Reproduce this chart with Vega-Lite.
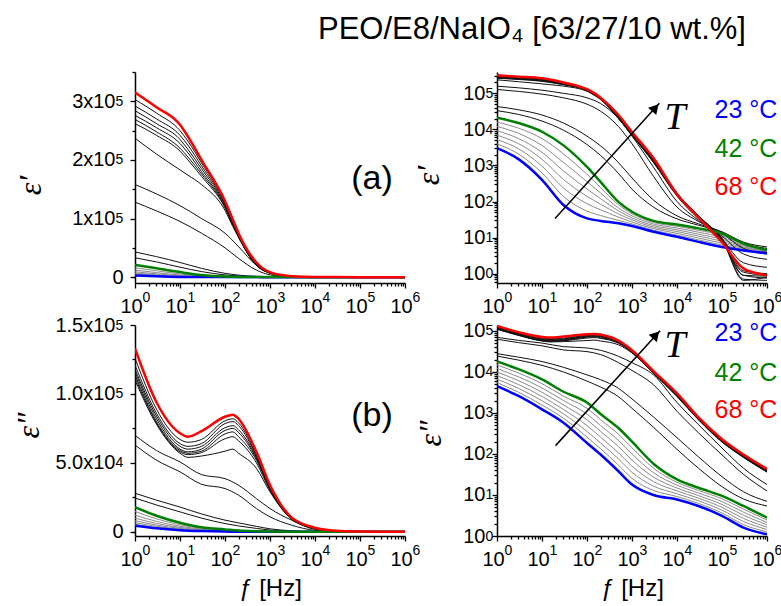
{
"$schema":"https://vega.github.io/schema/vega-lite/v6.json",
"autosize":{"type":"none"},
"padding":{"left":135,"top":72,"right":646,"bottom":534},
"title":{"text":"PEO/E8/NaIO₄ [63/27/10 wt.%]","anchor":"start","frame":"group","dx":183,"dy":33,"offset":25,"baseline":"alphabetic","fontSize":31,"font":"Liberation Sans","fontWeight":"normal","color":"#000"},
"data":{"values":[
{"T":23,"s":"blue","f":1,"e1":3000,"e2":4500},{"T":23,"s":"blue","f":3,"e1":1500,"e2":2600},{"T":23,"s":"blue","f":10,"e1":400,"e2":1230},{"T":23,"s":"blue","f":30,"e1":80,"e2":580},{"T":23,"s":"blue","f":100,"e1":34,"e2":186},{"T":23,"s":"blue","f":200,"e1":29,"e2":97},{"T":23,"s":"blue","f":500,"e1":25,"e2":38},{"T":23,"s":"blue","f":1000,"e1":21,"e2":18},{"T":23,"s":"blue","f":3000,"e1":14.5,"e2":10},{"T":23,"s":"blue","f":10000,"e1":10.5,"e2":7.8},{"T":23,"s":"blue","f":30000,"e1":7.6,"e2":5.4},{"T":23,"s":"blue","f":100000,"e1":5.5,"e2":3.1},{"T":23,"s":"blue","f":300000,"e1":4.4,"e2":1.6},{"T":23,"s":"blue","f":1000000,"e1":3.7,"e2":1.1},
{"T":25,"s":"gray","f":1,"e1":3960,"e2":5480},{"T":25,"s":"gray","f":3,"e1":2080,"e2":3220},{"T":25,"s":"gray","f":10,"e1":620,"e2":1565},{"T":25,"s":"gray","f":30,"e1":138,"e2":743},{"T":25,"s":"gray","f":100,"e1":54,"e2":258},{"T":25,"s":"gray","f":200,"e1":41,"e2":135},{"T":25,"s":"gray","f":500,"e1":30,"e2":53.7},{"T":25,"s":"gray","f":1000,"e1":23.9,"e2":25.4},{"T":25,"s":"gray","f":3000,"e1":16,"e2":12.9},{"T":25,"s":"gray","f":10000,"e1":11.7,"e2":9.16},{"T":25,"s":"gray","f":30000,"e1":8.6,"e2":6.24},{"T":25,"s":"gray","f":100000,"e1":6.2,"e2":3.64},{"T":25,"s":"gray","f":300000,"e1":4.7,"e2":1.9},{"T":25,"s":"gray","f":1000000,"e1":3.8,"e2":1.26},
{"T":28,"s":"gray","f":1,"e1":5220,"e2":6680},{"T":28,"s":"gray","f":3,"e1":2900,"e2":4000},{"T":28,"s":"gray","f":10,"e1":960,"e2":1990},{"T":28,"s":"gray","f":30,"e1":237,"e2":953},{"T":28,"s":"gray","f":100,"e1":87,"e2":356},{"T":28,"s":"gray","f":200,"e1":59,"e2":186},{"T":28,"s":"gray","f":500,"e1":37,"e2":76},{"T":28,"s":"gray","f":1000,"e1":27,"e2":35.8},{"T":28,"s":"gray","f":3000,"e1":17.7,"e2":16.5},{"T":28,"s":"gray","f":10000,"e1":13.1,"e2":10.7},{"T":28,"s":"gray","f":30000,"e1":9.7,"e2":7.2},{"T":28,"s":"gray","f":100000,"e1":7,"e2":4.27},{"T":28,"s":"gray","f":300000,"e1":5,"e2":2.26},{"T":28,"s":"gray","f":1000000,"e1":3.9,"e2":1.44},
{"T":31,"s":"gray","f":1,"e1":6900,"e2":8150},{"T":31,"s":"gray","f":3,"e1":4030,"e2":4950},{"T":31,"s":"gray","f":10,"e1":1490,"e2":2530},{"T":31,"s":"gray","f":30,"e1":408,"e2":1220},{"T":31,"s":"gray","f":100,"e1":139,"e2":492},{"T":31,"s":"gray","f":200,"e1":84,"e2":258},{"T":31,"s":"gray","f":500,"e1":45,"e2":107},{"T":31,"s":"gray","f":1000,"e1":31,"e2":50.5},{"T":31,"s":"gray","f":3000,"e1":19.5,"e2":21.2},{"T":31,"s":"gray","f":10000,"e1":14.7,"e2":12.6},{"T":31,"s":"gray","f":30000,"e1":11,"e2":8.36},{"T":31,"s":"gray","f":100000,"e1":7.9,"e2":5.01},{"T":31,"s":"gray","f":300000,"e1":5.3,"e2":2.69},{"T":31,"s":"gray","f":1000000,"e1":4,"e2":1.64},
{"T":34,"s":"gray","f":1,"e1":9120,"e2":9930},{"T":34,"s":"gray","f":3,"e1":5580,"e2":6140},{"T":34,"s":"gray","f":10,"e1":2310,"e2":3210},{"T":34,"s":"gray","f":30,"e1":705,"e2":1570},{"T":34,"s":"gray","f":100,"e1":222,"e2":681},{"T":34,"s":"gray","f":200,"e1":120,"e2":357},{"T":34,"s":"gray","f":500,"e1":55,"e2":152},{"T":34,"s":"gray","f":1000,"e1":35,"e2":71.3},{"T":34,"s":"gray","f":3000,"e1":21.5,"e2":27.3},{"T":34,"s":"gray","f":10000,"e1":16.4,"e2":14.8},{"T":34,"s":"gray","f":30000,"e1":12.4,"e2":9.68},{"T":34,"s":"gray","f":100000,"e1":9,"e2":5.87},{"T":34,"s":"gray","f":300000,"e1":5.6,"e2":3.21},{"T":34,"s":"gray","f":1000000,"e1":4.1,"e2":1.87},
{"T":37,"s":"gray","f":1,"e1":12050,"e2":12100},{"T":37,"s":"gray","f":3,"e1":7760,"e2":7620},{"T":37,"s":"gray","f":10,"e1":3570,"e2":4090},{"T":37,"s":"gray","f":30,"e1":1210,"e2":2010},{"T":37,"s":"gray","f":100,"e1":356,"e2":942},{"T":37,"s":"gray","f":200,"e1":172,"e2":495},{"T":37,"s":"gray","f":500,"e1":66,"e2":215},{"T":37,"s":"gray","f":1000,"e1":40,"e2":100},{"T":37,"s":"gray","f":3000,"e1":23.8,"e2":35.1},{"T":37,"s":"gray","f":10000,"e1":18.4,"e2":17.4},{"T":37,"s":"gray","f":30000,"e1":14.1,"e2":11.2},{"T":37,"s":"gray","f":100000,"e1":10.2,"e2":6.9},{"T":37,"s":"gray","f":300000,"e1":6,"e2":3.81},{"T":37,"s":"gray","f":1000000,"e1":4.3,"e2":2.14},
{"T":40,"s":"gray","f":1,"e1":15900,"e2":14800},{"T":40,"s":"gray","f":3,"e1":10800,"e2":9440},{"T":40,"s":"gray","f":10,"e1":5550,"e2":5200},{"T":40,"s":"gray","f":30,"e1":2090,"e2":2580},{"T":40,"s":"gray","f":100,"e1":569,"e2":1300},{"T":40,"s":"gray","f":200,"e1":245,"e2":687},{"T":40,"s":"gray","f":500,"e1":81,"e2":303},{"T":40,"s":"gray","f":1000,"e1":46,"e2":142},{"T":40,"s":"gray","f":3000,"e1":26.2,"e2":45.1},{"T":40,"s":"gray","f":10000,"e1":20.6,"e2":20.4},{"T":40,"s":"gray","f":30000,"e1":15.9,"e2":12.9},{"T":40,"s":"gray","f":100000,"e1":11.5,"e2":8.11},{"T":40,"s":"gray","f":300000,"e1":6.4,"e2":4.53},{"T":40,"s":"gray","f":1000000,"e1":4.4,"e2":2.45},
{"T":42,"s":"green","f":1,"e1":21000,"e2":18000},{"T":42,"s":"green","f":3,"e1":15000,"e2":11700},{"T":42,"s":"green","f":10,"e1":8600,"e2":6600},{"T":42,"s":"green","f":30,"e1":3600,"e2":3300},{"T":42,"s":"green","f":100,"e1":910,"e2":1800},{"T":42,"s":"green","f":200,"e1":350,"e2":950},{"T":42,"s":"green","f":500,"e1":98,"e2":430},{"T":42,"s":"green","f":1000,"e1":52,"e2":200},{"T":42,"s":"green","f":3000,"e1":29,"e2":58},{"T":42,"s":"green","f":10000,"e1":23,"e2":24},{"T":42,"s":"green","f":30000,"e1":18,"e2":15},{"T":42,"s":"green","f":100000,"e1":13,"e2":9.5},{"T":42,"s":"green","f":300000,"e1":6.8,"e2":5.4},{"T":42,"s":"green","f":1000000,"e1":4.5,"e2":2.8},
{"T":44,"s":"black","f":1,"e1":33000,"e2":24500},{"T":44,"s":"black","f":3,"e1":26000,"e2":19500},{"T":44,"s":"black","f":10,"e1":17000,"e2":14500},{"T":44,"s":"black","f":30,"e1":9500,"e2":10000},{"T":44,"s":"black","f":100,"e1":3800,"e2":6000},{"T":44,"s":"black","f":200,"e1":1900,"e2":4300},{"T":44,"s":"black","f":500,"e1":600,"e2":2500},{"T":44,"s":"black","f":1000,"e1":220,"e2":1300},{"T":44,"s":"black","f":3000,"e1":70,"e2":450},{"T":44,"s":"black","f":10000,"e1":33,"e2":130},{"T":44,"s":"black","f":30000,"e1":22,"e2":45},{"T":44,"s":"black","f":100000,"e1":14,"e2":16},{"T":44,"s":"black","f":300000,"e1":7,"e2":8},{"T":44,"s":"black","f":1000000,"e1":5,"e2":5.4},
{"T":46,"s":"black","f":1,"e1":43000,"e2":28000},{"T":46,"s":"black","f":3,"e1":35000,"e2":23000},{"T":46,"s":"black","f":10,"e1":25000,"e2":18000},{"T":46,"s":"black","f":30,"e1":15000,"e2":13000},{"T":46,"s":"black","f":100,"e1":6500,"e2":8500},{"T":46,"s":"black","f":200,"e1":3500,"e2":6500},{"T":46,"s":"black","f":500,"e1":1200,"e2":4000},{"T":46,"s":"black","f":1000,"e1":450,"e2":2200},{"T":46,"s":"black","f":3000,"e1":110,"e2":800},{"T":46,"s":"black","f":10000,"e1":40,"e2":250},{"T":46,"s":"black","f":30000,"e1":24,"e2":85},{"T":46,"s":"black","f":100000,"e1":14.5,"e2":28},{"T":46,"s":"black","f":300000,"e1":7.5,"e2":12},{"T":46,"s":"black","f":1000000,"e1":5.5,"e2":7},
{"T":48,"s":"black","f":1,"e1":128000,"e2":63000},{"T":48,"s":"black","f":3,"e1":113000,"e2":52000},{"T":48,"s":"black","f":10,"e1":95000,"e2":43500},{"T":48,"s":"black","f":30,"e1":75000,"e2":34500},{"T":48,"s":"black","f":100,"e1":50000,"e2":31400},{"T":48,"s":"black","f":200,"e1":32000,"e2":26600},{"T":48,"s":"black","f":500,"e1":12000,"e2":16900},{"T":48,"s":"black","f":1000,"e1":4000,"e2":10900},{"T":48,"s":"black","f":3000,"e1":500,"e2":4900},{"T":48,"s":"black","f":10000,"e1":70,"e2":1100},{"T":48,"s":"black","f":30000,"e1":28,"e2":330},{"T":48,"s":"black","f":100000,"e1":13,"e2":95},{"T":48,"s":"black","f":300000,"e1":5,"e2":32},{"T":48,"s":"black","f":1000000,"e1":3.5,"e2":12.5},
{"T":50,"s":"black","f":1,"e1":158000,"e2":70000},{"T":50,"s":"black","f":3,"e1":142000,"e2":59000},{"T":50,"s":"black","f":10,"e1":122000,"e2":50700},{"T":50,"s":"black","f":30,"e1":100000,"e2":41500},{"T":50,"s":"black","f":100,"e1":75000,"e2":38600},{"T":50,"s":"black","f":200,"e1":52000,"e2":33800},{"T":50,"s":"black","f":500,"e1":20000,"e2":24100},{"T":50,"s":"black","f":1000,"e1":6500,"e2":16900},{"T":50,"s":"black","f":3000,"e1":900,"e2":8500},{"T":50,"s":"black","f":10000,"e1":100,"e2":1800},{"T":50,"s":"black","f":30000,"e1":30,"e2":520},{"T":50,"s":"black","f":100000,"e1":11,"e2":140},{"T":50,"s":"black","f":300000,"e1":3.5,"e2":45},{"T":50,"s":"black","f":1000000,"e1":2.5,"e2":18},
{"T":52,"s":"black","f":1,"e1":237000,"e2":110000},{"T":52,"s":"black","f":3,"e1":210000,"e2":78000},{"T":52,"s":"black","f":10,"e1":183000,"e2":57000},{"T":52,"s":"black","f":15,"e1":174000,"e2":54000},{"T":52,"s":"black","f":30,"e1":158000,"e2":55000},{"T":52,"s":"black","f":100,"e1":114000,"e2":58500},{"T":52,"s":"black","f":150,"e1":86000,"e2":60000},{"T":52,"s":"black","f":200,"e1":68000,"e2":57000},{"T":52,"s":"black","f":500,"e1":20000,"e2":46000},{"T":52,"s":"black","f":1000,"e1":6800,"e2":29000},{"T":52,"s":"black","f":3000,"e1":1200,"e2":9200},{"T":52,"s":"black","f":10000,"e1":140,"e2":2500},{"T":52,"s":"black","f":30000,"e1":33,"e2":680},{"T":52,"s":"black","f":100000,"e1":9,"e2":195},{"T":52,"s":"black","f":300000,"e1":2,"e2":82},{"T":52,"s":"black","f":1000000,"e1":1.5,"e2":36},
{"T":54,"s":"black","f":1,"e1":262000,"e2":112000},{"T":54,"s":"black","f":3,"e1":242000,"e2":79000},{"T":54,"s":"black","f":10,"e1":215000,"e2":58000},{"T":54,"s":"black","f":15,"e1":200000,"e2":56000},{"T":54,"s":"black","f":30,"e1":172000,"e2":57500},{"T":54,"s":"black","f":100,"e1":118000,"e2":67500},{"T":54,"s":"black","f":150,"e1":88000,"e2":69000},{"T":54,"s":"black","f":200,"e1":68000,"e2":66000},{"T":54,"s":"black","f":500,"e1":20000,"e2":50000},{"T":54,"s":"black","f":1000,"e1":7000,"e2":30000},{"T":54,"s":"black","f":3000,"e1":1250,"e2":9400},{"T":54,"s":"black","f":10000,"e1":150,"e2":2600},{"T":54,"s":"black","f":30000,"e1":36,"e2":690},{"T":54,"s":"black","f":100000,"e1":9.5,"e2":200},{"T":54,"s":"black","f":300000,"e1":1.2,"e2":84},{"T":54,"s":"black","f":1000000,"e1":1,"e2":37},
{"T":56,"s":"black","f":1,"e1":269000,"e2":114000},{"T":56,"s":"black","f":3,"e1":248000,"e2":80000},{"T":56,"s":"black","f":10,"e1":220000,"e2":59000},{"T":56,"s":"black","f":15,"e1":205000,"e2":57000},{"T":56,"s":"black","f":30,"e1":176000,"e2":58500},{"T":56,"s":"black","f":100,"e1":120000,"e2":71000},{"T":56,"s":"black","f":150,"e1":90000,"e2":72500},{"T":56,"s":"black","f":200,"e1":69000,"e2":69000},{"T":56,"s":"black","f":500,"e1":20500,"e2":52000},{"T":56,"s":"black","f":1000,"e1":7200,"e2":31000},{"T":56,"s":"black","f":3000,"e1":1300,"e2":9600},{"T":56,"s":"black","f":10000,"e1":155,"e2":2650},{"T":56,"s":"black","f":30000,"e1":38,"e2":700},{"T":56,"s":"black","f":100000,"e1":9.5,"e2":205},{"T":56,"s":"black","f":300000,"e1":0.9,"e2":86},{"T":56,"s":"black","f":1000000,"e1":0.75,"e2":38},
{"T":58,"s":"black","f":1,"e1":276000,"e2":116000},{"T":58,"s":"black","f":3,"e1":255000,"e2":82000},{"T":58,"s":"black","f":10,"e1":228000,"e2":60000},{"T":58,"s":"black","f":15,"e1":212000,"e2":58000},{"T":58,"s":"black","f":30,"e1":180000,"e2":60000},{"T":58,"s":"black","f":100,"e1":122000,"e2":73500},{"T":58,"s":"black","f":150,"e1":91000,"e2":75000},{"T":58,"s":"black","f":200,"e1":70000,"e2":72000},{"T":58,"s":"black","f":500,"e1":21000,"e2":53000},{"T":58,"s":"black","f":1000,"e1":7400,"e2":31500},{"T":58,"s":"black","f":3000,"e1":1350,"e2":9700},{"T":58,"s":"black","f":10000,"e1":160,"e2":2700},{"T":58,"s":"black","f":30000,"e1":40,"e2":720},{"T":58,"s":"black","f":100000,"e1":9,"e2":210},{"T":58,"s":"black","f":300000,"e1":0.7,"e2":88},{"T":58,"s":"black","f":1000000,"e1":0.65,"e2":39},
{"T":60,"s":"black","f":1,"e1":284000,"e2":118000},{"T":60,"s":"black","f":3,"e1":262000,"e2":84000},{"T":60,"s":"black","f":10,"e1":235000,"e2":62000},{"T":60,"s":"black","f":15,"e1":218000,"e2":60000},{"T":60,"s":"black","f":30,"e1":185000,"e2":62000},{"T":60,"s":"black","f":100,"e1":124000,"e2":75500},{"T":60,"s":"black","f":150,"e1":93000,"e2":77000},{"T":60,"s":"black","f":200,"e1":71000,"e2":74000},{"T":60,"s":"black","f":500,"e1":21500,"e2":54000},{"T":60,"s":"black","f":1000,"e1":7600,"e2":32000},{"T":60,"s":"black","f":3000,"e1":1400,"e2":9800},{"T":60,"s":"black","f":10000,"e1":165,"e2":2750},{"T":60,"s":"black","f":30000,"e1":40,"e2":730},{"T":60,"s":"black","f":100000,"e1":8.5,"e2":215},{"T":60,"s":"black","f":300000,"e1":0.65,"e2":90},{"T":60,"s":"black","f":1000000,"e1":0.8,"e2":40},
{"T":63,"s":"black","f":1,"e1":292000,"e2":121000},{"T":63,"s":"black","f":3,"e1":270000,"e2":86000},{"T":63,"s":"black","f":10,"e1":242000,"e2":64000},{"T":63,"s":"black","f":15,"e1":225000,"e2":62000},{"T":63,"s":"black","f":30,"e1":190000,"e2":64000},{"T":63,"s":"black","f":100,"e1":126000,"e2":78500},{"T":63,"s":"black","f":150,"e1":94000,"e2":80000},{"T":63,"s":"black","f":200,"e1":72000,"e2":77000},{"T":63,"s":"black","f":500,"e1":22000,"e2":55000},{"T":63,"s":"black","f":1000,"e1":7800,"e2":32500},{"T":63,"s":"black","f":3000,"e1":1450,"e2":10000},{"T":63,"s":"black","f":10000,"e1":170,"e2":2800},{"T":63,"s":"black","f":30000,"e1":40,"e2":740},{"T":63,"s":"black","f":100000,"e1":8,"e2":220},{"T":63,"s":"black","f":300000,"e1":0.9,"e2":92},{"T":63,"s":"black","f":1000000,"e1":0.85,"e2":41},
{"T":66,"s":"black","f":1,"e1":303000,"e2":126000},{"T":66,"s":"black","f":3,"e1":280000,"e2":89000},{"T":66,"s":"black","f":10,"e1":250000,"e2":67000},{"T":66,"s":"black","f":15,"e1":232000,"e2":65000},{"T":66,"s":"black","f":30,"e1":195000,"e2":67000},{"T":66,"s":"black","f":100,"e1":128000,"e2":80500},{"T":66,"s":"black","f":150,"e1":96000,"e2":82000},{"T":66,"s":"black","f":200,"e1":73000,"e2":79000},{"T":66,"s":"black","f":500,"e1":22500,"e2":56000},{"T":66,"s":"black","f":1000,"e1":8100,"e2":33000},{"T":66,"s":"black","f":3000,"e1":1500,"e2":10000},{"T":66,"s":"black","f":10000,"e1":170,"e2":2900},{"T":66,"s":"black","f":30000,"e1":38,"e2":760},{"T":66,"s":"black","f":100000,"e1":7.6,"e2":225},{"T":66,"s":"black","f":300000,"e1":1.1,"e2":95},{"T":66,"s":"black","f":1000000,"e1":0.9,"e2":42},
{"T":68,"s":"red","f":1,"e1":315000,"e2":133000},{"T":68,"s":"red","f":3,"e1":290000,"e2":94000},{"T":68,"s":"red","f":10,"e1":260000,"e2":71500},{"T":68,"s":"red","f":15,"e1":240000,"e2":69000},{"T":68,"s":"red","f":30,"e1":200000,"e2":73000},{"T":68,"s":"red","f":100,"e1":130000,"e2":83500},{"T":68,"s":"red","f":150,"e1":98000,"e2":85000},{"T":68,"s":"red","f":200,"e1":75000,"e2":82000},{"T":68,"s":"red","f":500,"e1":25000,"e2":58000},{"T":68,"s":"red","f":1000,"e1":8500,"e2":34000},{"T":68,"s":"red","f":3000,"e1":1600,"e2":10500},{"T":68,"s":"red","f":10000,"e1":160,"e2":3000},{"T":68,"s":"red","f":30000,"e1":36,"e2":780},{"T":68,"s":"red","f":100000,"e1":7.4,"e2":230},{"T":68,"s":"red","f":300000,"e1":1.4,"e2":97},{"T":68,"s":"red","f":1000000,"e1":0.9,"e2":43}
]},
"columns":2,
"spacing":{"row":42,"column":92},
"bounds":"flush",
"concat":[
{"width":270,"height":211,
 "resolve":{"axis":{"x":"independent","y":"independent"}},
 "layer":[
  {"transform":[{"filter":"datum.s=='gray'||datum.s=='black'"}],
   "mark":{"type":"line","interpolate":"monotone","clip":true,"strokeWidth":1},
   "encoding":{
    "x":{"field":"f","type":"quantitative","scale":{"type":"log","domain":[1,1000000],"nice":false},"axis":{"values":[1,10,100,1000,10000,100000,1000000],"labelExpr":"'10'","title":null,"labelFlush":false,"labelOverlap":false,"tickSize":5,"labelPadding":8,"labelOffset":-4}},
    "y":{"field":"e1","type":"quantitative","scale":{"domain":[-10000,350000],"nice":false,"zero":false},"axis":{"values":[0,100000,200000,300000],"labelExpr":"datum.value==0?'':format(datum.value/100000,'d')+'x10'","title":"ε′","titleFont":"Liberation Serif","titleFontStyle":"italic","titleFontSize":32,"titleAngle":-90,"titleX":-105,"titleY":113,"titleAlign":"center","titleBaseline":"middle","labelPadding":15,"tickSize":5,"labelOverlap":false}},
    "detail":{"field":"T","type":"nominal"},
    "color":{"field":"s","type":"nominal","scale":{"domain":["gray","black","blue","green","red"],"range":["#8a8a8a","#111111","#0000ff","#008000","#ff0000"]},"legend":null}}},
  {"transform":[{"filter":"datum.s=='blue'||datum.s=='green'||datum.s=='red'"}],
   "mark":{"type":"line","interpolate":"monotone","clip":true,"strokeWidth":2.5},
   "encoding":{"x":{"field":"f","type":"quantitative","axis":null},"y":{"field":"e1","type":"quantitative","axis":null},"detail":{"field":"T","type":"nominal"},"color":{"field":"s","type":"nominal","legend":null}}},
  {"data":{"values":[{}]},"mark":{"type":"point","opacity":0},
   "encoding":{"x":{"datum":10,"type":"quantitative","axis":{"orient":"bottom","values":[2,3,4,5,6,7,8,9,20,30,40,50,60,70,80,90,200,300,400,500,600,700,800,900,2000,3000,4000,5000,6000,7000,8000,9000,20000,30000,40000,50000,60000,70000,80000,90000,200000,300000,400000,500000,600000,700000,800000,900000],"labels":false,"domain":false,"tickSize":3,"title":null}},
    "y":{"datum":0,"type":"quantitative","axis":{"orient":"left","values":[0,50000,150000,250000,350000],"labelExpr":"datum.value==0?'0':''","labelPadding":9,"labelOverlap":false,"domain":false,"tickSize":3,"title":null}}}},
  {"data":{"values":[{}]},"mark":{"type":"point","opacity":0},
   "encoding":{"x":{"datum":10,"type":"quantitative","axis":{"orient":"bottom","values":[1,10,100,1000,10000,100000,1000000],"labelExpr":"['0','1','2','3','4','5','6'][round(log(datum.value)/LN10)]","labelFontSize":14,"labelPadding":2,"labelOffset":11,"tickOpacity":0,"tickSize":5,"domain":false,"labelFlush":false,"labelOverlap":false,"title":null}},
    "y":{"datum":100000,"type":"quantitative","axis":{"orient":"left","values":[100000,200000,300000],"labelExpr":"'5'","labelFontSize":14,"labelAlign":"left","labelPadding":15,"labelDy":-7,"tickOpacity":0,"tickSize":5,"domain":false,"labelOverlap":false,"title":null}}}},
  {"data":{"values":[{}]},"mark":{"type":"text","text":"(a)","fontSize":34,"font":"Liberation Sans","color":"#000"},
   "encoding":{"x":{"datum":185000,"type":"quantitative","axis":null},"y":{"datum":168000,"type":"quantitative","axis":null}}}
 ]},
{"width":270,"height":211,
 "resolve":{"axis":{"x":"independent","y":"independent"}},
 "layer":[
  {"transform":[{"filter":"datum.s=='gray'||datum.s=='black'"}],
   "mark":{"type":"line","interpolate":"monotone","clip":true,"strokeWidth":1},
   "encoding":{
    "x":{"field":"f","type":"quantitative","scale":{"type":"log","domain":[1,1000000],"nice":false},"axis":{"values":[1,10,100,1000,10000,100000,1000000],"labelExpr":"'10'","title":null,"labelFlush":false,"labelOverlap":false,"tickSize":5,"labelPadding":8,"labelOffset":-4}},
    "y":{"field":"e1","type":"quantitative","scale":{"type":"log","domain":[0.55,390000],"nice":false},"axis":{"values":[1,10,100,1000,10000,100000],"labelExpr":"'10'","title":"ε′","titleFont":"Liberation Serif","titleFontStyle":"italic","titleFontSize":32,"titleAngle":-90,"titleX":-69,"titleY":103,"titleAlign":"center","titleBaseline":"middle","labelPadding":7,"tickSize":5,"labelOverlap":false,"labelFlush":false}},
    "detail":{"field":"T","type":"nominal"},
    "color":{"field":"s","type":"nominal","scale":{"domain":["gray","black","blue","green","red"],"range":["#8a8a8a","#111111","#0000ff","#008000","#ff0000"]},"legend":null}}},
  {"transform":[{"filter":"datum.s=='blue'||datum.s=='green'||datum.s=='red'"}],
   "mark":{"type":"line","interpolate":"monotone","clip":true,"strokeWidth":2.5},
   "encoding":{"x":{"field":"f","type":"quantitative","axis":null},"y":{"field":"e1","type":"quantitative","axis":null},"detail":{"field":"T","type":"nominal"},"color":{"field":"s","type":"nominal","legend":null}}},
  {"data":{"values":[{}]},"mark":{"type":"point","opacity":0},
   "encoding":{"x":{"datum":10,"type":"quantitative","axis":{"orient":"bottom","values":[2,3,4,5,6,7,8,9,20,30,40,50,60,70,80,90,200,300,400,500,600,700,800,900,2000,3000,4000,5000,6000,7000,8000,9000,20000,30000,40000,50000,60000,70000,80000,90000,200000,300000,400000,500000,600000,700000,800000,900000],"labels":false,"domain":false,"tickSize":3,"title":null}},
    "y":{"datum":10,"type":"quantitative","axis":{"orient":"left","values":[0.6,0.7,0.8,0.9,2,3,4,5,6,7,8,9,20,30,40,50,60,70,80,90,200,300,400,500,600,700,800,900,2000,3000,4000,5000,6000,7000,8000,9000,20000,30000,40000,50000,60000,70000,80000,90000,200000,300000],"labels":false,"domain":false,"tickSize":3,"title":null}}}},
  {"data":{"values":[{}]},"mark":{"type":"point","opacity":0},
   "encoding":{"x":{"datum":10,"type":"quantitative","axis":{"orient":"bottom","values":[1,10,100,1000,10000,100000,1000000],"labelExpr":"['0','1','2','3','4','5','6'][round(log(datum.value)/LN10)]","labelFontSize":14,"labelPadding":2,"labelOffset":11,"tickOpacity":0,"tickSize":5,"domain":false,"labelFlush":false,"labelOverlap":false,"title":null}},
    "y":{"datum":10,"type":"quantitative","axis":{"orient":"left","values":[1,10,100,1000,10000,100000],"labelExpr":"['0','1','2','3','4','5'][round(log(datum.value)/LN10)]","labelFontSize":14,"labelAlign":"left","labelPadding":7,"labelDy":-7,"tickOpacity":0,"tickSize":5,"domain":false,"labelOverlap":false,"labelFlush":false,"title":null}}}},
  {"data":{"values":[{}]},"mark":{"type":"rule","color":"#000","strokeWidth":1.5},
   "encoding":{"x":{"datum":19.5,"type":"quantitative","axis":null},"y":{"datum":34,"type":"quantitative","axis":null},"x2":{"datum":4050},"y2":{"datum":52700}}},
  {"data":{"values":[{}]},"mark":{"type":"point","shape":"triangle-up","filled":true,"size":120,"angle":42,"color":"#000","opacity":1},
   "encoding":{"x":{"datum":3300,"type":"quantitative","axis":null},"y":{"datum":39500,"type":"quantitative","axis":null}}},
  {"data":{"values":[{}]},"mark":{"type":"text","text":"T","fontSize":38,"font":"Liberation Serif","fontStyle":"italic","color":"#000"},
   "encoding":{"x":{"datum":9100,"type":"quantitative","axis":null},"y":{"datum":20400,"type":"quantitative","axis":null}}},
  {"data":{"values":[{}]},"mark":{"type":"text","text":"23 °C","fontSize":25,"font":"Liberation Sans","color":"#0000ff"},
   "encoding":{"x":{"datum":340000,"type":"quantitative","axis":null},"y":{"datum":34700,"type":"quantitative","axis":null}}},
  {"data":{"values":[{}]},"mark":{"type":"text","text":"42 °C","fontSize":25,"font":"Liberation Sans","color":"#008000"},
   "encoding":{"x":{"datum":340000,"type":"quantitative","axis":null},"y":{"datum":2820,"type":"quantitative","axis":null}}},
  {"data":{"values":[{}]},"mark":{"type":"text","text":"68 °C","fontSize":25,"font":"Liberation Sans","color":"#ff0000"},
   "encoding":{"x":{"datum":340000,"type":"quantitative","axis":null},"y":{"datum":245,"type":"quantitative","axis":null}}}
 ]},
{"width":270,"height":211,
 "resolve":{"axis":{"x":"independent","y":"independent"}},
 "layer":[
  {"transform":[{"filter":"datum.s=='gray'||datum.s=='black'"}],
   "mark":{"type":"line","interpolate":"monotone","clip":true,"strokeWidth":1},
   "encoding":{
    "x":{"field":"f","type":"quantitative","scale":{"type":"log","domain":[1,1000000],"nice":false},"axis":{"values":[1,10,100,1000,10000,100000,1000000],"labelExpr":"'10'","title":"ƒ [Hz]","titleFontSize":24,"titleY":59,"titleBaseline":"alphabetic","labelFlush":false,"labelOverlap":false,"tickSize":5,"labelPadding":8,"labelOffset":-4}},
    "y":{"field":"e2","type":"quantitative","scale":{"domain":[-3000,150000],"nice":false,"zero":false},"axis":{"values":[0,50000,100000,150000],"labelExpr":"datum.value==0?'':datum.value==50000?'5.0x10':format(datum.value/100000,'.1f')+'x10'","title":"ε″","titleFont":"Liberation Serif","titleFontStyle":"italic","titleFontSize":32,"titleAngle":-90,"titleX":-107,"titleY":100,"titleAlign":"center","titleBaseline":"middle","labelPadding":15,"tickSize":5,"labelOverlap":false}},
    "detail":{"field":"T","type":"nominal"},
    "color":{"field":"s","type":"nominal","scale":{"domain":["gray","black","blue","green","red"],"range":["#8a8a8a","#111111","#0000ff","#008000","#ff0000"]},"legend":null}}},
  {"transform":[{"filter":"datum.s=='blue'||datum.s=='green'||datum.s=='red'"}],
   "mark":{"type":"line","interpolate":"monotone","clip":true,"strokeWidth":2.5},
   "encoding":{"x":{"field":"f","type":"quantitative","axis":null},"y":{"field":"e2","type":"quantitative","axis":null},"detail":{"field":"T","type":"nominal"},"color":{"field":"s","type":"nominal","legend":null}}},
  {"data":{"values":[{}]},"mark":{"type":"point","opacity":0},
   "encoding":{"x":{"datum":10,"type":"quantitative","axis":{"orient":"bottom","values":[2,3,4,5,6,7,8,9,20,30,40,50,60,70,80,90,200,300,400,500,600,700,800,900,2000,3000,4000,5000,6000,7000,8000,9000,20000,30000,40000,50000,60000,70000,80000,90000,200000,300000,400000,500000,600000,700000,800000,900000],"labels":false,"domain":false,"tickSize":3,"title":null}},
    "y":{"datum":0,"type":"quantitative","axis":{"orient":"left","values":[0,25000,75000,125000],"labelExpr":"datum.value==0?'0':''","labelPadding":9,"labelOverlap":false,"domain":false,"tickSize":3,"title":null}}}},
  {"data":{"values":[{}]},"mark":{"type":"point","opacity":0},
   "encoding":{"x":{"datum":10,"type":"quantitative","axis":{"orient":"bottom","values":[1,10,100,1000,10000,100000,1000000],"labelExpr":"['0','1','2','3','4','5','6'][round(log(datum.value)/LN10)]","labelFontSize":14,"labelPadding":2,"labelOffset":11,"tickOpacity":0,"tickSize":5,"domain":false,"labelFlush":false,"labelOverlap":false,"title":null}},
    "y":{"datum":100000,"type":"quantitative","axis":{"orient":"left","values":[50000,100000,150000],"labelExpr":"datum.value==50000?'4':'5'","labelFontSize":14,"labelAlign":"left","labelPadding":15,"labelDy":-7,"tickOpacity":0,"tickSize":5,"domain":false,"labelOverlap":false,"title":null}}}},
  {"data":{"values":[{}]},"mark":{"type":"text","text":"(b)","fontSize":34,"font":"Liberation Sans","color":"#000"},
   "encoding":{"x":{"datum":185000,"type":"quantitative","axis":null},"y":{"datum":84000,"type":"quantitative","axis":null}}}
 ]},
{"width":270,"height":211,
 "resolve":{"axis":{"x":"independent","y":"independent"}},
 "layer":[
  {"transform":[{"filter":"datum.s=='gray'||datum.s=='black'"}],
   "mark":{"type":"line","interpolate":"monotone","clip":true,"strokeWidth":1},
   "encoding":{
    "x":{"field":"f","type":"quantitative","scale":{"type":"log","domain":[1,1000000],"nice":false},"axis":{"values":[1,10,100,1000,10000,100000,1000000],"labelExpr":"'10'","title":"ƒ [Hz]","titleFontSize":24,"titleY":59,"titleBaseline":"alphabetic","labelFlush":false,"labelOverlap":false,"tickSize":5,"labelPadding":8,"labelOffset":-4}},
    "y":{"field":"e2","type":"quantitative","scale":{"type":"log","domain":[1,140000],"nice":false},"axis":{"values":[1,10,100,1000,10000,100000],"labelExpr":"'10'","title":"ε″","titleFont":"Liberation Serif","titleFontStyle":"italic","titleFontSize":32,"titleAngle":-90,"titleX":-67,"titleY":108,"titleAlign":"center","titleBaseline":"middle","labelPadding":7,"tickSize":5,"labelOverlap":false,"labelFlush":false}},
    "detail":{"field":"T","type":"nominal"},
    "color":{"field":"s","type":"nominal","scale":{"domain":["gray","black","blue","green","red"],"range":["#8a8a8a","#111111","#0000ff","#008000","#ff0000"]},"legend":null}}},
  {"transform":[{"filter":"datum.s=='blue'||datum.s=='green'||datum.s=='red'"}],
   "mark":{"type":"line","interpolate":"monotone","clip":true,"strokeWidth":2.5},
   "encoding":{"x":{"field":"f","type":"quantitative","axis":null},"y":{"field":"e2","type":"quantitative","axis":null},"detail":{"field":"T","type":"nominal"},"color":{"field":"s","type":"nominal","legend":null}}},
  {"data":{"values":[{}]},"mark":{"type":"point","opacity":0},
   "encoding":{"x":{"datum":10,"type":"quantitative","axis":{"orient":"bottom","values":[2,3,4,5,6,7,8,9,20,30,40,50,60,70,80,90,200,300,400,500,600,700,800,900,2000,3000,4000,5000,6000,7000,8000,9000,20000,30000,40000,50000,60000,70000,80000,90000,200000,300000,400000,500000,600000,700000,800000,900000],"labels":false,"domain":false,"tickSize":3,"title":null}},
    "y":{"datum":10,"type":"quantitative","axis":{"orient":"left","values":[2,3,4,5,6,7,8,9,20,30,40,50,60,70,80,90,200,300,400,500,600,700,800,900,2000,3000,4000,5000,6000,7000,8000,9000,20000,30000,40000,50000,60000,70000,80000,90000],"labels":false,"domain":false,"tickSize":3,"title":null}}}},
  {"data":{"values":[{}]},"mark":{"type":"point","opacity":0},
   "encoding":{"x":{"datum":10,"type":"quantitative","axis":{"orient":"bottom","values":[1,10,100,1000,10000,100000,1000000],"labelExpr":"['0','1','2','3','4','5','6'][round(log(datum.value)/LN10)]","labelFontSize":14,"labelPadding":2,"labelOffset":11,"tickOpacity":0,"tickSize":5,"domain":false,"labelFlush":false,"labelOverlap":false,"title":null}},
    "y":{"datum":10,"type":"quantitative","axis":{"orient":"left","values":[1,10,100,1000,10000,100000],"labelExpr":"['0','1','2','3','4','5'][round(log(datum.value)/LN10)]","labelFontSize":14,"labelAlign":"left","labelPadding":7,"labelDy":-7,"tickOpacity":0,"tickSize":5,"domain":false,"labelOverlap":false,"labelFlush":false,"title":null}}}},
  {"data":{"values":[{}]},"mark":{"type":"rule","color":"#000","strokeWidth":1.5},
   "encoding":{"x":{"datum":20,"type":"quantitative","axis":null},"y":{"datum":160,"type":"quantitative","axis":null},"x2":{"datum":4200},"y2":{"datum":102000}}},
  {"data":{"values":[{}]},"mark":{"type":"point","shape":"triangle-up","filled":true,"size":120,"angle":42,"color":"#000","opacity":1},
   "encoding":{"x":{"datum":3400,"type":"quantitative","axis":null},"y":{"datum":80000,"type":"quantitative","axis":null}}},
  {"data":{"values":[{}]},"mark":{"type":"text","text":"T","fontSize":38,"font":"Liberation Serif","fontStyle":"italic","color":"#000"},
   "encoding":{"x":{"datum":9100,"type":"quantitative","axis":null},"y":{"datum":42700,"type":"quantitative","axis":null}}},
  {"data":{"values":[{}]},"mark":{"type":"text","text":"23 °C","fontSize":25,"font":"Liberation Sans","color":"#0000ff"},
   "encoding":{"x":{"datum":340000,"type":"quantitative","axis":null},"y":{"datum":89000,"type":"quantitative","axis":null}}},
  {"data":{"values":[{}]},"mark":{"type":"text","text":"42 °C","fontSize":25,"font":"Liberation Sans","color":"#008000"},
   "encoding":{"x":{"datum":340000,"type":"quantitative","axis":null},"y":{"datum":9550,"type":"quantitative","axis":null}}},
  {"data":{"values":[{}]},"mark":{"type":"text","text":"68 °C","fontSize":25,"font":"Liberation Sans","color":"#ff0000"},
   "encoding":{"x":{"datum":340000,"type":"quantitative","axis":null},"y":{"datum":1175,"type":"quantitative","axis":null}}}
 ]}
],
"config":{
 "font":"Liberation Sans",
 "view":{"stroke":null},
 "axis":{"domainColor":"#000","domainWidth":1.5,"tickColor":"#000","tickWidth":1.3,"labelColor":"#000","labelFontSize":20,"labelFont":"Liberation Sans","titleColor":"#000","titleFont":"Liberation Sans","titleFontWeight":"normal","grid":false}
}
}
